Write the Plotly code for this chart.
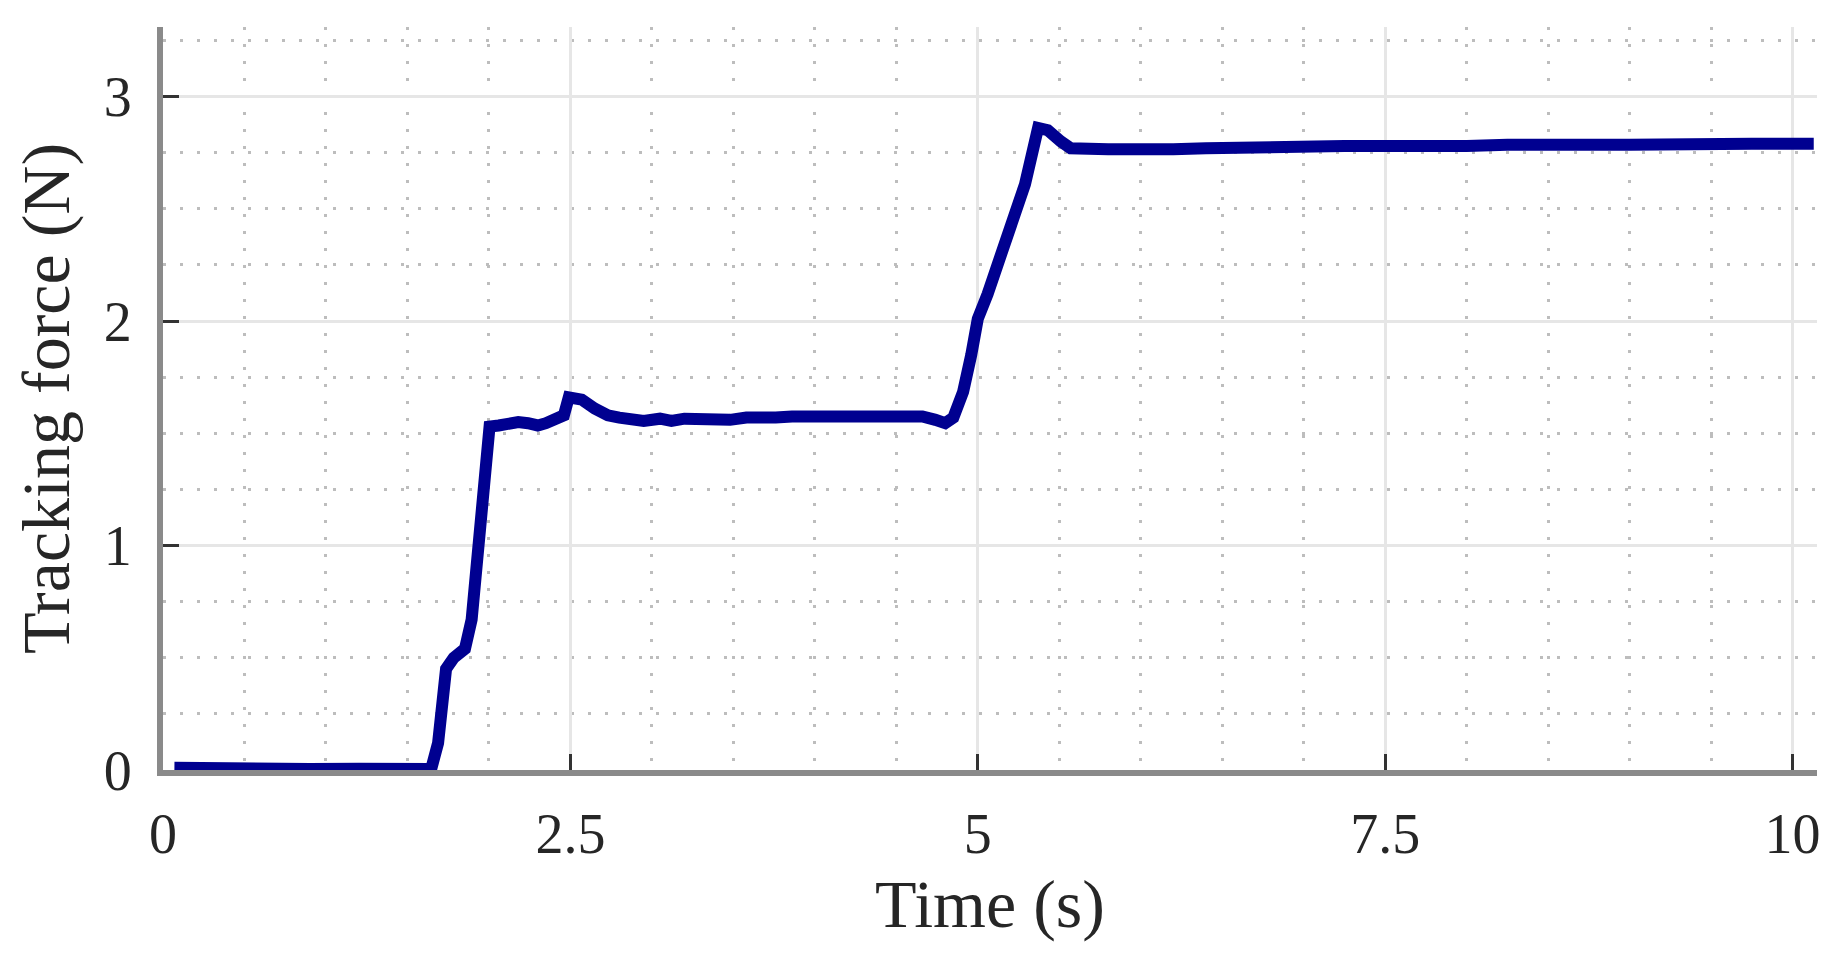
import plotly.graph_objects as go

# tracking force
time_s = [0.07, 0.3, 0.6, 0.9, 1.2, 1.5, 1.646, 1.688, 1.737, 1.784, 1.853, 1.894, 1.922,
          1.949, 1.977, 2.004, 2.06, 2.12, 2.18, 2.24, 2.30, 2.35, 2.42, 2.46, 2.49,
          2.57, 2.65, 2.73, 2.80, 2.87, 2.95, 3.05, 3.12, 3.20, 3.30, 3.39, 3.48,
          3.58, 3.67, 3.76, 3.86, 3.95, 4.05, 4.14, 4.22, 4.32, 4.40, 4.50, 4.58,
          4.66, 4.74, 4.80, 4.85, 4.91, 4.96, 5.00, 5.06, 5.18, 5.29, 5.37, 5.43,
          5.51, 5.57, 5.8, 6.0, 6.2, 6.4, 6.6, 6.8, 7.0, 7.25, 7.5, 7.75, 8.0, 8.25,
          8.5, 8.75, 9.0, 9.25, 9.5, 9.75, 10.0, 10.13]
force_n = [0.01, 0.005, 0.008, 0.004, 0.006, 0.004, 0.005, 0.12, 0.45, 0.50, 0.54, 0.67, 0.92,
           1.19, 1.44, 1.53, 1.535, 1.545, 1.55, 1.545, 1.535, 1.545, 1.56, 1.58, 1.66,
           1.65, 1.61, 1.58, 1.57, 1.56, 1.555, 1.565, 1.555, 1.565, 1.56, 1.565, 1.56,
           1.57, 1.565, 1.57, 1.575, 1.575, 1.58, 1.575, 1.58, 1.575, 1.57, 1.575, 1.57,
           1.575, 1.56, 1.545, 1.57, 1.685, 1.85, 2.01, 2.12, 2.39, 2.61, 2.86, 2.85,
           2.80, 2.77, 2.765, 2.76, 2.765, 2.77, 2.775, 2.77, 2.775, 2.78, 2.78, 2.775,
           2.78, 2.785, 2.78, 2.785, 2.785, 2.79, 2.785, 2.79, 2.79, 2.79]

x_ticks = [0, 2.5, 5, 7.5, 10]
x_labels = ["0", "2.5", "5", "7.5", "10"]
y_ticks = [0, 1, 2, 3]

font = "Liberation Serif"

fig = go.Figure()
fig.add_trace(go.Scatter(x=time_s, y=force_n, mode="lines",
                         line=dict(color="#000090", width=12), showlegend=False))

axis_common = dict(
    showline=True, linecolor="#8a8a8a", linewidth=6, mirror=False,
    ticks="inside", ticklen=16, tickwidth=3, tickcolor="#333333",
    showgrid=True, gridcolor="#e6e6e6", gridwidth=3,
    zeroline=False,
    tickfont=dict(family=font, size=56, color="#262626"),
    title_font=dict(family=font, size=68, color="#262626"),
)

fig.update_xaxes(axis_common, range=[0, 10.15], tickvals=x_ticks, ticktext=x_labels,
                 title_text="Time (s)", title_standoff=17, ticklabelstandoff=10,
                 minor=dict(dtick=0.5, showgrid=True, gridcolor="#bdbdbd",
                            gridwidth=3, griddash="3px,14px"))
fig.update_yaxes(axis_common, range=[0, 3.31], tickvals=y_ticks,
                 title_text="Tracking force (N)", title_standoff=30, ticklabelstandoff=14,
                 minor=dict(dtick=0.25, showgrid=True, gridcolor="#bdbdbd",
                            gridwidth=3, griddash="3px,14px"))

fig.update_layout(
    width=1842, height=962,
    margin=dict(l=155, r=33, t=19, b=200),
    plot_bgcolor="white", paper_bgcolor="white",
)

fig.write_html("out.html")
